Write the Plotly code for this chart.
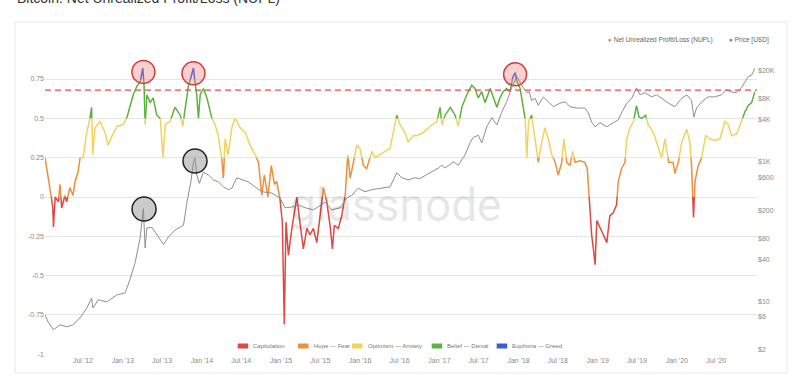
import plotly.graph_objects as go
import pandas as pd

# ---------------- data ----------------
nupl_dates = [
    "2012-01-08", "2012-01-16", "2012-01-31", "2012-02-13", "2012-02-16", "2012-02-24", "2012-03-10", "2012-03-17",
    "2012-03-25", "2012-04-09", "2012-04-17", "2012-05-02", "2012-05-16", "2012-05-26", "2012-06-09", "2012-06-18",
    "2012-07-02", "2012-07-16", "2012-08-02", "2012-08-10", "2012-08-15", "2012-08-26", "2012-09-18", "2012-10-11",
    "2012-10-25", "2012-11-13", "2012-12-06", "2013-01-03", "2013-01-21", "2013-02-04", "2013-02-18", "2013-03-09",
    "2013-03-22", "2013-04-03", "2013-04-09", "2013-04-14", "2013-04-22", "2013-05-07", "2013-05-21", "2013-06-07",
    "2013-06-23", "2013-07-05", "2013-07-16", "2013-08-07", "2013-08-30", "2013-09-23", "2013-10-05", "2013-10-21",
    "2013-10-31", "2013-11-16", "2013-11-23", "2013-11-30", "2013-12-08", "2013-12-16", "2013-12-24", "2014-01-08",
    "2014-01-24", "2014-02-16", "2014-03-03", "2014-03-17", "2014-04-02", "2014-04-10", "2014-04-18", "2014-05-02",
    "2014-05-19", "2014-06-03", "2014-06-27", "2014-07-20", "2014-08-11", "2014-09-03", "2014-09-19", "2014-10-04",
    "2014-10-16", "2014-11-01", "2014-11-17", "2014-12-02", "2014-12-12", "2014-12-27", "2015-01-07", "2015-01-16",
    "2015-01-24", "2015-02-04", "2015-02-20", "2015-03-07", "2015-03-15", "2015-03-29", "2015-04-14", "2015-04-30",
    "2015-05-15", "2015-05-30", "2015-06-15", "2015-06-30", "2015-07-16", "2015-07-31", "2015-08-15", "2015-08-26",
    "2015-09-04", "2015-09-22", "2015-10-08", "2015-10-24", "2015-11-05", "2015-11-16", "2015-12-01", "2015-12-16",
    "2015-12-31", "2016-01-16", "2016-01-31", "2016-02-24", "2016-03-10", "2016-04-01", "2016-04-25", "2016-05-18",
    "2016-06-02", "2016-06-18", "2016-07-03", "2016-07-26", "2016-08-10", "2016-09-02", "2016-09-18", "2016-10-19",
    "2016-11-19", "2016-12-20", "2017-01-04", "2017-01-12", "2017-01-27", "2017-02-20", "2017-03-14", "2017-03-29",
    "2017-04-14", "2017-05-07", "2017-05-30", "2017-06-14", "2017-06-29", "2017-07-15", "2017-07-30", "2017-08-23",
    "2017-09-07", "2017-09-23", "2017-10-07", "2017-10-22", "2017-11-07", "2017-11-22", "2017-12-05", "2017-12-16",
    "2017-12-26", "2018-01-08", "2018-01-23", "2018-01-31", "2018-02-08", "2018-02-16", "2018-03-02", "2018-03-18",
    "2018-04-02", "2018-04-18", "2018-05-03", "2018-05-18", "2018-06-03", "2018-06-19", "2018-07-03", "2018-07-19",
    "2018-07-29", "2018-08-11", "2018-08-26", "2018-09-08", "2018-09-19", "2018-10-11", "2018-11-03", "2018-11-14",
    "2018-11-26", "2018-12-04", "2018-12-12", "2018-12-20", "2018-12-28", "2019-01-12", "2019-01-27", "2019-02-12",
    "2019-02-26", "2019-03-14", "2019-03-29", "2019-04-06", "2019-04-21", "2019-05-07", "2019-05-15", "2019-05-30",
    "2019-06-15", "2019-06-29", "2019-07-10", "2019-07-23", "2019-08-10", "2019-08-22", "2019-09-15", "2019-09-30",
    "2019-10-23", "2019-11-07", "2019-11-25", "2019-12-15", "2019-12-23", "2020-01-08", "2020-01-24", "2020-02-16",
    "2020-03-01", "2020-03-09", "2020-03-18", "2020-03-25", "2020-04-09", "2020-04-25", "2020-05-13", "2020-06-02",
    "2020-06-24", "2020-07-18", "2020-08-10", "2020-08-25", "2020-09-10", "2020-10-03", "2020-10-25", "2020-11-10",
    "2020-11-25", "2020-12-11", "2020-12-26",
]
nupl_values = [
    0.25, 0.18, 0.06, -0.07, -0.19, 0.0, -0.03, 0.08,
    -0.07, 0.01, -0.03, 0.06, 0.01, 0.10, 0.16, 0.25,
    0.25, 0.39, 0.50, 0.57, 0.27, 0.44, 0.48, 0.41,
    0.33, 0.39, 0.45, 0.46, 0.51, 0.58, 0.65, 0.71,
    0.73, 0.82, 0.71, 0.46, 0.65, 0.60, 0.63, 0.52,
    0.50, 0.25, 0.46, 0.48, 0.57, 0.52, 0.45, 0.63,
    0.71, 0.78, 0.82, 0.73, 0.65, 0.50, 0.65, 0.69,
    0.63, 0.50, 0.46, 0.39, 0.25, 0.12, 0.37, 0.27,
    0.44, 0.50, 0.44, 0.41, 0.33, 0.27, 0.22, 0.01,
    0.14, 0.0, 0.20, 0.08, 0.10, -0.01, -0.16, -0.81,
    -0.16, -0.37, -0.20, -0.07, 0.0, -0.16, -0.33, -0.20,
    -0.24, -0.20, -0.29, -0.12, 0.06, -0.03, -0.18, -0.33,
    -0.18, -0.20, -0.12, 0.01, 0.27, 0.12, 0.22, 0.33,
    0.31, 0.20, 0.18, 0.29, 0.25, 0.27, 0.29, 0.31,
    0.41, 0.52, 0.46, 0.41, 0.35, 0.39, 0.39, 0.41,
    0.45, 0.48, 0.57, 0.46, 0.52, 0.57, 0.52, 0.45,
    0.57, 0.65, 0.71, 0.69, 0.63, 0.67, 0.60, 0.69,
    0.63, 0.57, 0.63, 0.67, 0.69, 0.67, 0.76, 0.79,
    0.73, 0.69, 0.58, 0.50, 0.25, 0.48, 0.52, 0.37,
    0.22, 0.35, 0.44, 0.37, 0.27, 0.22, 0.14, 0.22,
    0.37, 0.22, 0.20, 0.29, 0.22, 0.23, 0.22, 0.18,
    -0.07, -0.24, -0.33, -0.43, -0.15, -0.20, -0.24, -0.29,
    -0.12, -0.10, -0.05, 0.10, 0.18, 0.22, 0.37, 0.44,
    0.48, 0.58, 0.51, 0.50, 0.52, 0.46, 0.41, 0.35,
    0.25, 0.37, 0.22, 0.22, 0.15, 0.22, 0.35, 0.43,
    0.35, 0.20, -0.13, 0.10, 0.20, 0.25, 0.39, 0.37,
    0.36, 0.37, 0.48, 0.46, 0.39, 0.40, 0.48, 0.54,
    0.58, 0.60, 0.67,
]

price_dates = [
    "2012-01-08", "2012-01-23", "2012-02-16", "2012-03-17", "2012-04-17", "2012-05-16", "2012-06-18", "2012-07-19",
    "2012-08-10", "2012-08-16", "2012-09-10", "2012-10-19", "2012-12-04", "2013-01-12", "2013-02-04", "2013-02-27",
    "2013-03-22", "2013-04-06", "2013-04-14", "2013-04-22", "2013-05-15", "2013-06-07", "2013-07-08", "2013-07-30",
    "2013-08-30", "2013-10-08", "2013-10-24", "2013-11-11", "2013-11-23", "2013-11-30", "2013-12-08", "2013-12-20",
    "2014-01-08", "2014-01-31", "2014-02-23", "2014-03-19", "2014-04-10", "2014-05-03", "2014-05-19", "2014-06-11",
    "2014-07-04", "2014-08-04", "2014-09-03", "2014-10-04", "2014-11-20", "2014-12-27", "2015-01-20", "2015-02-20",
    "2015-03-23", "2015-04-22", "2015-05-30", "2015-07-08", "2015-07-24", "2015-08-23", "2015-10-01", "2015-10-31",
    "2015-11-24", "2015-12-23", "2016-01-24", "2016-02-24", "2016-04-09", "2016-05-18", "2016-06-18", "2016-07-11",
    "2016-08-10", "2016-09-10", "2016-10-03", "2016-11-19", "2016-12-27", "2017-01-12", "2017-01-27", "2017-03-06",
    "2017-03-29", "2017-04-29", "2017-05-23", "2017-06-07", "2017-06-29", "2017-07-15", "2017-08-07", "2017-08-31",
    "2017-09-23", "2017-10-15", "2017-11-07", "2017-11-30", "2017-12-16", "2017-12-20", "2018-01-08", "2018-01-23",
    "2018-02-08", "2018-02-20", "2018-03-02", "2018-03-18", "2018-04-02", "2018-04-25", "2018-05-18", "2018-06-11",
    "2018-07-11", "2018-08-03", "2018-08-26", "2018-09-26", "2018-11-03", "2018-11-19", "2018-12-04", "2018-12-20",
    "2019-01-12", "2019-02-12", "2019-03-14", "2019-04-06", "2019-04-21", "2019-05-15", "2019-06-07", "2019-06-22",
    "2019-06-29", "2019-07-15", "2019-08-07", "2019-09-07", "2019-09-30", "2019-10-23", "2019-11-23", "2019-12-23",
    "2020-01-24", "2020-02-16", "2020-03-09", "2020-03-20", "2020-04-01", "2020-04-25", "2020-05-25", "2020-06-24",
    "2020-07-25", "2020-08-18", "2020-09-10", "2020-10-03", "2020-10-25", "2020-11-10", "2020-11-25", "2020-12-11",
    "2020-12-26",
]
price_values = [
    6.4, 5.0, 3.9, 4.6, 4.3, 4.6, 5.8, 8.0,
    11.1, 8.0, 10.5, 9.8, 12.3, 13.2, 21, 36,
    81, 214, 58, 112, 115, 89, 65, 83,
    105, 123, 263, 513, 1000, 1122, 646, 490,
    708, 646, 550, 513, 437, 398, 417, 589,
    550, 513, 437, 372, 355, 302, 219, 224,
    240, 219, 204, 240, 263, 204, 219, 302,
    331, 417, 372, 398, 417, 437, 692, 589,
    550, 589, 575, 692, 813, 891, 813, 1000,
    891, 1259, 1905, 2239, 2399, 1862, 3162, 4266,
    3388, 5129, 7244, 11482, 14791, 17378, 13490, 11482,
    9772, 10000, 7586, 8128, 6457, 8511, 7244, 6166,
    6918, 7244, 6166, 5888, 5888, 5012, 3715, 3162,
    3631, 3162, 3631, 3981, 5012, 6918, 8128, 10000,
    11482, 9120, 9772, 8511, 9120, 8128, 6918, 6166,
    8128, 9120, 7586, 4365, 5888, 7244, 8511, 8511,
    9120, 10715, 10000, 9772, 11482, 13804, 16596, 17378,
    21878,
]

zone_names = ["Capitulation", "Hope — Fear", "Optimism — Anxiety", "Belief — Denial", "Euphoria — Greed"]
zone_colors = ["#dd4a43", "#ee8f3d", "#f0d35e", "#5ab33f", "#3d5bd6"]
zone_bounds = [0.0, 0.25, 0.5, 0.75]
euphoria_level = 0.68

top_peak_dates = ["2013-04-06", "2013-11-23", "2017-12-16"]
top_peak_nupl = [0.795, 0.786, 0.78]
price_peak_dates = ["2013-04-09", "2013-11-30"]
price_peak_values = [210, 1026]

x_tick_dates = ["2012-07-01", "2013-01-01", "2013-07-01", "2014-01-01", "2014-07-01", "2015-01-01",
                "2015-07-01", "2016-01-01", "2016-07-01", "2017-01-01", "2017-07-01", "2018-01-01",
                "2018-07-01", "2019-01-01", "2019-07-01", "2020-01-01", "2020-07-01"]
nupl_ticks = [-1, -0.75, -0.5, -0.25, 0, 0.25, 0.5, 0.75]
nupl_tick_text = ["-1", "-0.75", "-0.5", "-0.25", "0", "0.25", "0.5", "0.75"]
price_ticks = [2, 6, 10, 40, 80, 200, 600, 1000, 4000, 8000, 20000]
price_tick_text = ["$2", "$6", "$10", "$40", "$80", "$200", "$600", "$1K", "$4K", "$8K", "$20K"]

# ---------------- build zone-coloured NUPL segments ----------------
def zone_of(v):
    return sum(1 for b in zone_bounds if v >= b)

tvals = pd.to_datetime(nupl_dates).astype("int64").tolist()
seg_x = [[] for _ in zone_names]
seg_y = [[] for _ in zone_names]
last_pt = [None for _ in zone_names]

for i in range(len(nupl_values) - 1):
    t0, t1 = tvals[i], tvals[i + 1]
    v0, v1 = nupl_values[i], nupl_values[i + 1]
    cuts = [b for b in zone_bounds if min(v0, v1) < b < max(v0, v1)]
    cuts.sort(reverse=(v1 < v0))
    pts = [(t0, v0)] + [(t0 + (b - v0) / (v1 - v0) * (t1 - t0), b) for b in cuts] + [(t1, v1)]
    for (ta, va), (tb, vb) in zip(pts[:-1], pts[1:]):
        z = zone_of((va + vb) / 2)
        if last_pt[z] != (ta, va):
            if seg_x[z]:
                seg_x[z].append(None)
                seg_y[z].append(None)
            seg_x[z].append(pd.Timestamp(int(ta)))
            seg_y[z].append(va)
        seg_x[z].append(pd.Timestamp(int(tb)))
        seg_y[z].append(vb)
        last_pt[z] = (tb, vb)

FONT = "Liberation Sans, Arial, sans-serif"
fig = go.Figure()

fig.add_trace(go.Scatter(
    x=pd.to_datetime(price_dates), y=price_values, yaxis="y2", mode="lines",
    line=dict(color="#8f8f8f", width=1), name="Price [USD]", hoverinfo="skip",
))

for z, name in enumerate(zone_names):
    fig.add_trace(go.Scatter(
        x=seg_x[z], y=seg_y[z], mode="lines", name=name,
        line=dict(color=zone_colors[z], width=1.5), hoverinfo="skip",
    ))

fig.add_trace(go.Scatter(
    x=pd.to_datetime(top_peak_dates), y=top_peak_nupl, mode="markers",
    marker=dict(size=23, color="rgba(235,120,120,0.35)", line=dict(color="#d43a3a", width=1.5)),
    hoverinfo="skip",
))
fig.add_trace(go.Scatter(
    x=pd.to_datetime(price_peak_dates), y=price_peak_values, yaxis="y2", mode="markers",
    marker=dict(size=24, color="rgba(140,140,140,0.45)", line=dict(color="#222222", width=1.5)),
    hoverinfo="skip",
))

L, R, T, B = 45, 43, 58, 34
W, H = 800, 389
pw, ph = W - L - R, H - T - B

def px(x):
    return (x - L) / pw

def py(y):
    return (H - B - y) / ph

shapes = [
    dict(type="rect", xref="paper", yref="paper", x0=px(15), x1=px(787), y0=py(373), y1=py(22),
         line=dict(color="#e9e9e9", width=1), fillcolor="rgba(0,0,0,0)", layer="below"),
    dict(type="line", xref="paper", yref="y", x0=0, x1=1, y0=euphoria_level, y1=euphoria_level,
         line=dict(color="#e05050", width=1.3, dash="6px,4px")),
]

annotations = [
    dict(text="Bitcoin: Net Unrealized Profit/Loss (NUPL)", xref="paper", yref="paper",
         x=px(15), y=py(8), xanchor="left", yanchor="bottom", showarrow=False,
         font=dict(family=FONT, size=14, color="#333333")),
    dict(text="glassnode", xref="paper", yref="paper", x=px(396), y=py(205),
         xanchor="center", yanchor="middle", showarrow=False,
         font=dict(family="Roboto, sans-serif", size=46, color="rgba(0,0,0,0.11)")),
    dict(text='<span style="color:#ee8f3d">●</span> Net Unrealized Profit/Loss (NUPL)',
         xref="paper", yref="paper", x=px(606), y=py(40), xanchor="left", yanchor="middle",
         showarrow=False, font=dict(family=FONT, size=6.5, color="#666666")),
    dict(text='<span style="color:#888888">●</span> Price [USD]',
         xref="paper", yref="paper", x=px(727), y=py(40), xanchor="left", yanchor="middle",
         showarrow=False, font=dict(family=FONT, size=6.5, color="#666666")),
]

legend_rect_x = [237.7, 298, 352, 431.7, 496.7]
for z, name in enumerate(zone_names):
    x0 = legend_rect_x[z]
    shapes.append(dict(type="rect", xref="paper", yref="paper", x0=px(x0), x1=px(x0 + 10.5),
                       y0=py(348.5), y1=py(343.5), line=dict(width=0), fillcolor=zone_colors[z]))
    annotations.append(dict(text=name, xref="paper", yref="paper", x=px(x0 + 13.5), y=py(346),
                            xanchor="left", yanchor="middle", showarrow=False,
                            font=dict(family=FONT, size=6, color="#777777")))

fig.update_layout(
    width=W, height=H, margin=dict(l=L, r=R, t=T, b=B),
    paper_bgcolor="white", plot_bgcolor="white", showlegend=False,
    xaxis=dict(type="date", range=["2012-01-08", "2021-01-05"], tickvals=x_tick_dates,
               tickformat="%b '%y", showgrid=False, zeroline=False, showline=False, ticks="",
               tickfont=dict(family=FONT, size=7, color="#8a8a8a")),
    yaxis=dict(range=[-1.0045, 0.8837], tickvals=nupl_ticks, ticktext=nupl_tick_text,
               showgrid=True, gridcolor="#e6e6e6", gridwidth=1, zeroline=False, showline=False,
               ticks="", tickfont=dict(family=FONT, size=7, color="#8a8a8a")),
    yaxis2=dict(type="log", overlaying="y", side="right", range=[0.2293, 4.4874],
                tickvals=price_ticks, ticktext=price_tick_text, showgrid=False, zeroline=False,
                showline=False, ticks="", tickfont=dict(family=FONT, size=7, color="#8a8a8a")),
    shapes=shapes, annotations=annotations,
)

fig.write_html(
    "out.html",
    config={"displayModeBar": False},
    post_script="document.body.style.margin='0';document.body.style.overflow='hidden';",
)
